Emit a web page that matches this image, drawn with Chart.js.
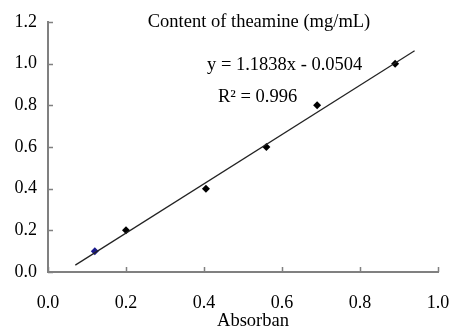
<!DOCTYPE html>
<html>
<head>
<meta charset="utf-8">
<script src="https://cdn.jsdelivr.net/npm/chart.js@4/dist/chart.umd.min.js"></script>
<style>
  html, body { margin: 0; padding: 0; background: #fff; }
  #wrap { width: 453px; height: 330px; }
</style>
</head>
<body>
<div id="wrap"><canvas id="chart"></canvas></div>
<script>
// measured points (absorbance vs theamine content)
const absorbance = [0.12, 0.20, 0.405, 0.56, 0.69, 0.89];
const content = [0.10, 0.20, 0.40, 0.60, 0.80, 1.00];
const pointColors = ['#1a1a8c', '#000', '#000', '#000', '#000', '#000'];

// fitted line ends
const fitX = [0.07, 0.94];
const fitY = [0.033, 1.062];

const xTicks = [0, 0.2, 0.4, 0.6, 0.8, 1.0];
const yTicks = [0, 0.2, 0.4, 0.6, 0.8, 1.0, 1.2];

const titleText = 'Content of theamine (mg/mL)';
const eqText = 'y = 1.1838x - 0.0504';
const r2Text = 'R² = 0.996';
const xTitle = 'Absorban';

const serif = '"Liberation Serif", "Times New Roman", serif';
const axisGrey = '#808080';

// tick marks point into the plot, drawn here
const innerTicks = {
  id: 'innerTicks',
  afterDraw(chart) {
    const { ctx, chartArea, scales } = chart;
    ctx.save();
    ctx.strokeStyle = axisGrey;
    ctx.lineWidth = 1.5;
    ctx.beginPath();
    xTicks.forEach(v => {
      const px = Math.round(scales.x.getPixelForValue(v)) + 0.5;
      ctx.moveTo(px, chartArea.bottom);
      ctx.lineTo(px, chartArea.bottom - 5);
    });
    yTicks.forEach(v => {
      const py = Math.round(scales.y.getPixelForValue(v)) + 0.5;
      ctx.moveTo(chartArea.left, py);
      ctx.lineTo(chartArea.left + 5, py);
    });
    ctx.stroke();

    ctx.fillStyle = '#000';
    ctx.font = '18.5px ' + serif;
    ctx.textBaseline = 'middle';
    ctx.textAlign = 'center';
    ctx.fillText(titleText, 259, 22);
    ctx.textAlign = 'left';
    ctx.fillText(eqText, 207, 65);
    ctx.fillText(r2Text, 218, 97);
    ctx.textAlign = 'center';
    ctx.fillText(xTitle, 253, 321);
    ctx.restore();
  }
};

new Chart(document.getElementById('chart'), {
  type: 'scatter',
  data: {
    datasets: [
      {
        label: 'fit',
        type: 'line',
        data: fitX.map((x, i) => ({ x, y: fitY[i] })),
        borderColor: '#222',
        borderWidth: 1.2,
        pointRadius: 0,
        fill: false
      },
      {
        label: 'data',
        data: absorbance.map((x, i) => ({ x, y: content[i] })),
        pointStyle: 'rectRot',
        pointRadius: 4,
        pointBackgroundColor: pointColors,
        pointBorderColor: pointColors,
        borderWidth: 0
      }
    ]
  },
  options: {
    responsive: true,
    maintainAspectRatio: false,
    animation: false,
    layout: { padding: { top: 22, right: 0, left: 0, bottom: 0 } },
    plugins: {
      legend: { display: false },
      tooltip: { enabled: false }
    },
    scales: {
      x: {
        type: 'linear',
        min: 0,
        max: 1.0,
        afterFit(scale) {
          scale.height = 58;
          scale.paddingLeft = 0;
          scale.paddingRight = 15;
        },
        grid: { display: true, drawOnChartArea: false, drawTicks: false },
        border: { color: axisGrey, width: 2 },
        ticks: {
          stepSize: 0.2,
          padding: 20,
          color: '#000',
          font: { family: serif, size: 18 },
          callback: v => v.toFixed(1)
        }
      },
      y: {
        min: 0,
        max: 1.2,
        afterFit(scale) {
          scale.width = 48;
          scale.paddingTop = 0;
          scale.paddingBottom = 0;
        },
        grid: { display: true, drawOnChartArea: false, drawTicks: false },
        border: { color: axisGrey, width: 2 },
        ticks: {
          stepSize: 0.2,
          padding: 11,
          color: '#000',
          font: { family: serif, size: 18 },
          callback: v => v.toFixed(1)
        }
      }
    }
  },
  plugins: [innerTicks]
});
</script>
</body>
</html>
